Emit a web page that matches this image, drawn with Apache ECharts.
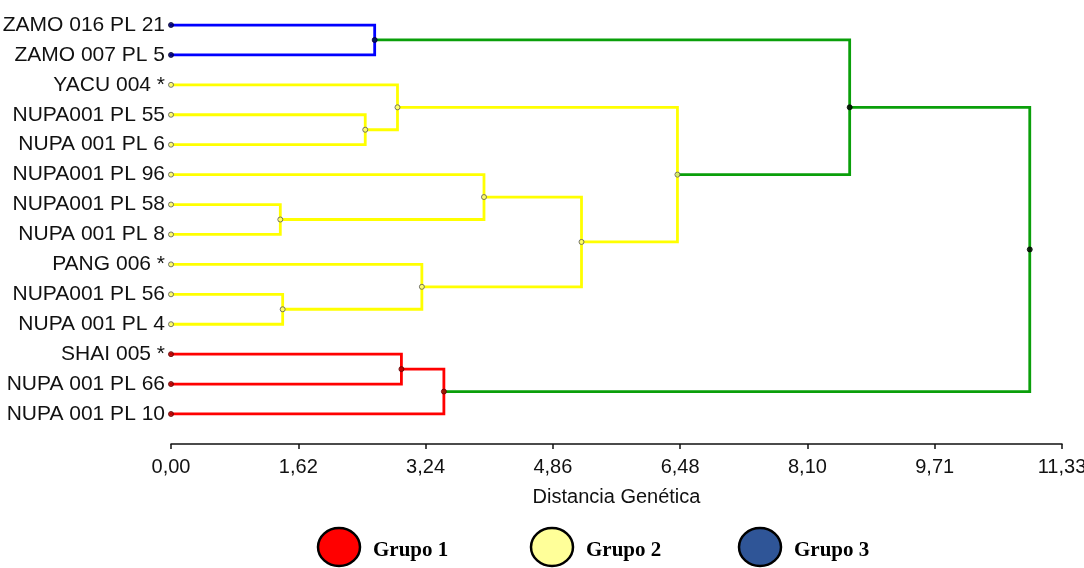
<!DOCTYPE html>
<html>
<head>
<meta charset="utf-8">
<script src="https://cdn.jsdelivr.net/npm/echarts@6/dist/echarts.min.js"></script>
<style>
html,body{margin:0;padding:0;background:#fff;}
#chart{width:1084px;height:568px;}
</style>
</head>
<body>
<div id="chart"></div>
<script>
// ---- Data ----
const leafNames = ['ZAMO 016 PL 21','ZAMO 007 PL 5','YACU 004 *','NUPA001 PL 55','NUPA 001 PL 6',
  'NUPA001 PL 96','NUPA001 PL 58','NUPA 001 PL 8','PANG 006 *','NUPA001 PL 56','NUPA 001 PL 4',
  'SHAI 005 *','NUPA 001 PL 66','NUPA 001 PL 10'];
const leafGroup = [3,3,2,2,2,2,2,2,2,2,2,1,1,1];
// merges: index 14 + k ; children refer to leaves (0-13) or earlier merges (14+)
const mergeLeft   = [0, 3, 2, 6, 5, 9, 8, 18, 16, 11, 23, 14, 25];
const mergeRight  = [1, 4, 15, 7, 17, 10, 19, 20, 21, 12, 13, 22, 24];
const mergeHeight = [2.59, 2.47, 2.88, 1.39, 3.98, 1.42, 3.19, 5.22, 6.44, 2.93, 3.47, 8.63, 10.92];
const mergeGroup  = [3, 2, 2, 2, 2, 2, 2, 2, 2, 1, 1, 0, 0];
const tickLabels = ['0,00','1,62','3,24','4,86','6,48','8,10','9,71','11,33'];
const axisMax = 11.33;
const groupNames = ['Grupo 1','Grupo 2','Grupo 3'];

// ---- Styles ----
const lineColor = {0:'#0a9f0a',1:'#ff0000',2:'#ffff00',3:'#0000ff'};
const markFill  = {0:'#000000',1:'#b00000',2:'#ffff80',3:'#000066'};
const markBorder= {0:'#000000',1:'#600000',2:'#555555',3:'#000033'};
const legendFill = ['#ff0000','#ffff99','#2f5597'];
const sans = '"Liberation Sans", Arial, sans-serif';

// ---- Build tree geometry ----
const N = leafNames.length;
const pos = [];
for (let i = 0; i < N; i++) pos.push([0, i]);
const segs = {0:[],1:[],2:[],3:[]};
const marks = [];
for (let i = 0; i < N; i++) marks.push({value:[0,i], g:leafGroup[i]});
for (let k = 0; k < mergeHeight.length; k++) {
  const a = pos[mergeLeft[k]], b = pos[mergeRight[k]];
  const h = mergeHeight[k];
  const y = (a[1] + b[1]) / 2;
  segs[mergeGroup[k]].push({coords:[[a[0],a[1]],[h,a[1]],[h,b[1]],[b[0],b[1]]]});
  pos.push([h, y]);
  marks.push({value:[h,y], g:mergeGroup[k]});
}

const series = [];
[2,1,3,0].forEach(g => {
  series.push({
    type:'lines', coordinateSystem:'cartesian2d', polyline:true, silent:true,
    lineStyle:{color:lineColor[g], width:2.8, opacity:1, cap:'square', join:'miter'},
    data:segs[g], z:2
  });
});
series.push({
  type:'scatter', symbol:'circle', symbolSize:5, silent:true, z:5,
  data: marks.map(m => ({value:m.value, itemStyle:{color:markFill[m.g], borderColor:markBorder[m.g], borderWidth:1}}))
});

const chart = echarts.init(document.getElementById('chart'), null, {renderer:'canvas'});
const interval = axisMax / 7;
const legendX = [339, 552, 760];
const graphics = [];
groupNames.forEach((name, i) => {
  graphics.push({type:'ellipse', shape:{cx:legendX[i], cy:547, rx:21, ry:19},
    style:{fill:legendFill[i], stroke:'#000', lineWidth:2.5}});
  graphics.push({type:'text', x:legendX[i] + 34, y:551,
    style:{text:name, fill:'#000', font:'bold 21px "Liberation Serif", "Times New Roman", serif', verticalAlign:'middle', align:'left'}});
});

chart.setOption({
  animation:false,
  backgroundColor:'#fff',
  grid:{left:171, right:22, top:25, bottom:154, containLabel:false, outerBoundsMode:'none'},
  xAxis:{
    type:'value', position:'bottom', min:0, max:axisMax, interval:interval, offset:30,
    name:'Distancia Genética', nameLocation:'middle', nameGap:43,
    nameTextStyle:{fontSize:20, color:'#111', fontFamily:sans},
    axisLine:{show:true, onZero:false, lineStyle:{color:'#111', width:1.5}},
    axisTick:{show:true, length:5, inside:false, lineStyle:{color:'#111', width:1.5}},
    axisLabel:{fontSize:20, color:'#111', margin:13, fontFamily:sans,
      formatter: v => tickLabels[Math.round(v / interval)] || ''},
    splitLine:{show:false}
  },
  yAxis:{
    type:'value', min:0, max:N-1, interval:1, inverse:true,
    axisLine:{show:false}, axisTick:{show:false}, splitLine:{show:false},
    axisLabel:{fontSize:21, color:'#111', margin:6, fontFamily:sans,
      showMinLabel:true, showMaxLabel:true,
      formatter: v => leafNames[Math.round(v)] || ''}
  },
  graphic:graphics,
  series:series
});
</script>
</body>
</html>
